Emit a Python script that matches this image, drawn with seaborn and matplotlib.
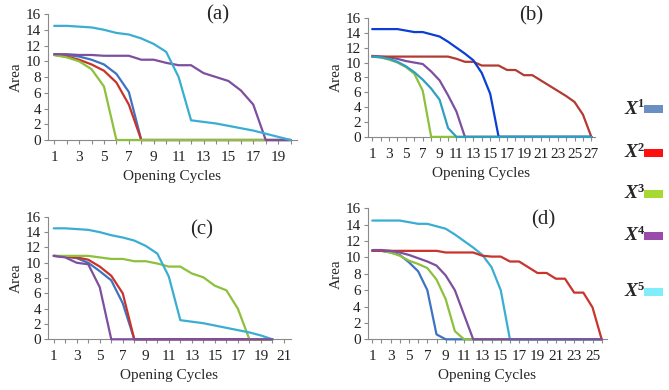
import numpy as np
import pandas as pd
import matplotlib
matplotlib.use("Agg")
import matplotlib.pyplot as plt
from matplotlib.patches import Rectangle
import seaborn as sns

sns.set_theme(style="white")
plt.rcParams["font.family"] = ["Liberation Serif", "DejaVu Serif"]

# ---------------------------------------------------------------------------
# data (Area per opening cycle)
# ---------------------------------------------------------------------------
SERIES = ["X1", "X2", "X3", "X4", "X5"]

# (a) cycles 1..20
a_x1 = [10.9, 10.8, 10.6, 10.2, 9.6, 8.4, 6.1] + [0] * 13
a_x2 = [10.8, 10.6, 10.2, 9.6, 8.8, 7.3, 4.5] + [0] * 13
a_x3 = [10.8, 10.5, 10.0, 9.0, 6.8] + [0] * 15
a_x4 = [10.9, 10.9, 10.8, 10.8, 10.7, 10.7, 10.7, 10.2, 10.2, 9.8,
        9.5, 9.5, 8.5, 8.0, 7.5, 6.3, 4.5, 0, 0, 0]
a_x5 = [14.5, 14.5, 14.4, 14.3, 14.0, 13.6, 13.4, 12.9, 12.2, 11.2,
        8.0, 2.5, 2.3, 2.1, 1.8, 1.5, 1.2, 0.8, 0.4, 0]

# (b) cycles 1..27
b_x1 = [10.8, 10.7, 10.5, 10.1, 9.5, 8.7, 7.7, 6.5, 5.0, 1.2] + [0] * 17
b_x2 = [10.8] * 10 + [10.5, 10.1, 10.1, 9.6, 9.6, 9.6, 9.0, 9.0, 8.3, 8.3,
                      7.6, 6.9, 6.2, 5.5, 4.7, 3.0, 0]
b_x3 = [10.8, 10.7, 10.4, 10.0, 9.4, 8.5, 6.2] + [0] * 20
b_x4 = [10.9, 10.8, 10.7, 10.5, 10.2, 10.0, 9.8, 8.8, 7.6, 5.6, 3.4] + [0] * 16
b_x5 = [14.5, 14.5, 14.5, 14.5, 14.3, 14.1, 14.1, 13.8, 13.5, 12.8,
        12.0, 11.2, 10.3, 8.6, 5.8] + [0] * 12

# (c) cycles 1..20
c_x1 = [10.9, 10.8, 10.6, 10.0, 8.9, 7.7, 4.7] + [0] * 13
c_x2 = [10.9, 10.8, 10.7, 10.4, 9.5, 8.3, 6.0] + [0] * 13
c_x3 = [10.9, 10.9, 10.9, 10.9, 10.7, 10.5, 10.5, 10.2, 10.2, 9.9,
        9.5, 9.5, 8.6, 8.1, 7.0, 6.4, 4.0, 0, 0, 0]
c_x4 = [10.9, 10.7, 10.0, 9.8, 6.8] + [0] * 15
c_x5 = [14.5, 14.5, 14.4, 14.3, 14.0, 13.6, 13.3, 12.9, 12.2, 11.2,
        8.2, 2.5, 2.3, 2.1, 1.8, 1.5, 1.2, 0.9, 0.5, 0]

# (d) cycles 1..26
d_x1 = [10.8, 10.8, 10.6, 10.3, 9.4, 8.3, 6.0, 0.6] + [0] * 18
d_x2 = [10.8] * 8 + [10.6, 10.6, 10.6, 10.6, 10.2, 10.1, 10.1, 9.5, 9.5, 8.8,
                     8.1, 8.1, 7.4, 7.4, 5.7, 5.7, 3.9, 0]
d_x3 = [10.8, 10.8, 10.6, 10.2, 9.6, 9.2, 8.7, 7.3, 4.9, 1.0] + [0] * 16
d_x4 = [10.9, 10.9, 10.8, 10.6, 10.3, 9.9, 9.5, 9.0, 7.8, 6.0, 3.0] + [0] * 15
d_x5 = [14.5, 14.5, 14.5, 14.5, 14.3, 14.1, 14.1, 13.8, 13.5, 12.8,
        12.0, 11.2, 10.3, 8.8, 6.0] + [0] * 11

# ---------------------------------------------------------------------------
# colours
# ---------------------------------------------------------------------------
pal_main = {"X1": "#3e73c2", "X2": "#c8332c", "X3": "#8dc03d",
            "X4": "#7d4f9e", "X5": "#3aaed2"}
pal_b = {"X1": "#2e9fc0", "X2": "#b23b32", "X3": "#8dc03d",
         "X4": "#7d4f9e", "X5": "#0b3fd4"}
legend_colors = ["#6b8fc5", "#ff1010", "#a8d832", "#9a4caa", "#80eefa"]


def to_long(values):
    rows = []
    for name, vals in zip(SERIES, values):
        for i, v in enumerate(vals):
            rows.append({"cycle": i + 1, "area": v, "series": name})
    return pd.DataFrame(rows)


panels = [
    # (label, data, palette, draw order, xlim, last labelled tick, axes rect, title pos)
    ("(a)", [a_x1, a_x2, a_x3, a_x4, a_x5], pal_main,
     ["X1", "X2", "X3", "X4", "X5"], (0.5, 20.5), 19,
     [0.0717, 0.641, 0.372, 0.323], (0.68, 0.99)),
    ("(b)", [b_x1, b_x2, b_x3, b_x4, b_x5], pal_b,
     ["X3", "X4", "X2", "X5", "X1"], (0.5, 27.4), 27,
     [0.550, 0.649, 0.339, 0.305], (0.72, 1.02)),
    ("(c)", [c_x1, c_x2, c_x3, c_x4, c_x5], pal_main,
     ["X1", "X2", "X3", "X5", "X4"], (0.5, 21.6), 21,
     [0.0717, 0.130, 0.363, 0.314], (0.633, 0.89)),
    ("(d)", [d_x1, d_x2, d_x3, d_x4, d_x5], pal_main,
     ["X1", "X3", "X5", "X2", "X4"], (0.5, 26.6), 25,
     [0.5496, 0.130, 0.358, 0.336], (0.731, 0.91)),
]

fig = plt.figure(figsize=(6.69, 3.9), dpi=100)
spine_col = "#8a8a8a"

for label, vals, pal, order, xlim, last_tick, rect, tpos in panels:
    ax = fig.add_axes(rect)
    df = to_long(vals)
    # lines sit on top of the axis line, as in the original
    sns.lineplot(data=df, x="cycle", y="area", hue="series", hue_order=order,
                 palette=pal, linewidth=1.6, legend=False, ax=ax,
                 zorder=3, clip_on=False)
    ax.set_xlim(*xlim)
    ax.set_ylim(0, 16)
    ax.set_yticks(np.arange(0, 17, 2))
    n_max = int(xlim[1])
    ax.set_xticks(np.arange(1, n_max + 1), minor=True)
    ax.set_xticks(np.arange(1, last_tick + 1, 2))
    ax.tick_params(axis="both", which="both", direction="out", length=3,
                   width=0.8, color=spine_col, labelsize=11, pad=2,
                   labelcolor="#222222", bottom=True, left=True)
    ax.tick_params(axis="x", pad=5)
    for s in ["top", "right"]:
        ax.spines[s].set_visible(False)
    for s in ["left", "bottom"]:
        ax.spines[s].set_color(spine_col)
        ax.spines[s].set_linewidth(0.8)
    ax.set_xlabel("Opening Cycles", fontsize=11, labelpad=4)
    ax.set_ylabel("Area", fontsize=11, labelpad=2)
    ax.text(tpos[0], tpos[1], label, transform=ax.transAxes, fontsize=15,
            ha="center", va="center")

# legend on the right
legend_y = [109, 153, 194, 236, 292]
for i, (yc, col) in enumerate(zip(legend_y, legend_colors)):
    fy = 1 - yc / 390
    fig.text(637 / 669, fy, "X", ha="right", va="center", fontsize=14,
             style="italic", weight="bold")
    fig.text(637.5 / 669, 1 - (yc - 5) / 390, str(i + 1), ha="left",
             va="center", fontsize=9, weight="bold")
    fig.add_artist(Rectangle((644 / 669, 1 - (yc + 4) / 390), 19 / 669,
                             8 / 390, transform=fig.transFigure,
                             facecolor=col, edgecolor="none"))

fig.savefig("out.png", dpi=100)
